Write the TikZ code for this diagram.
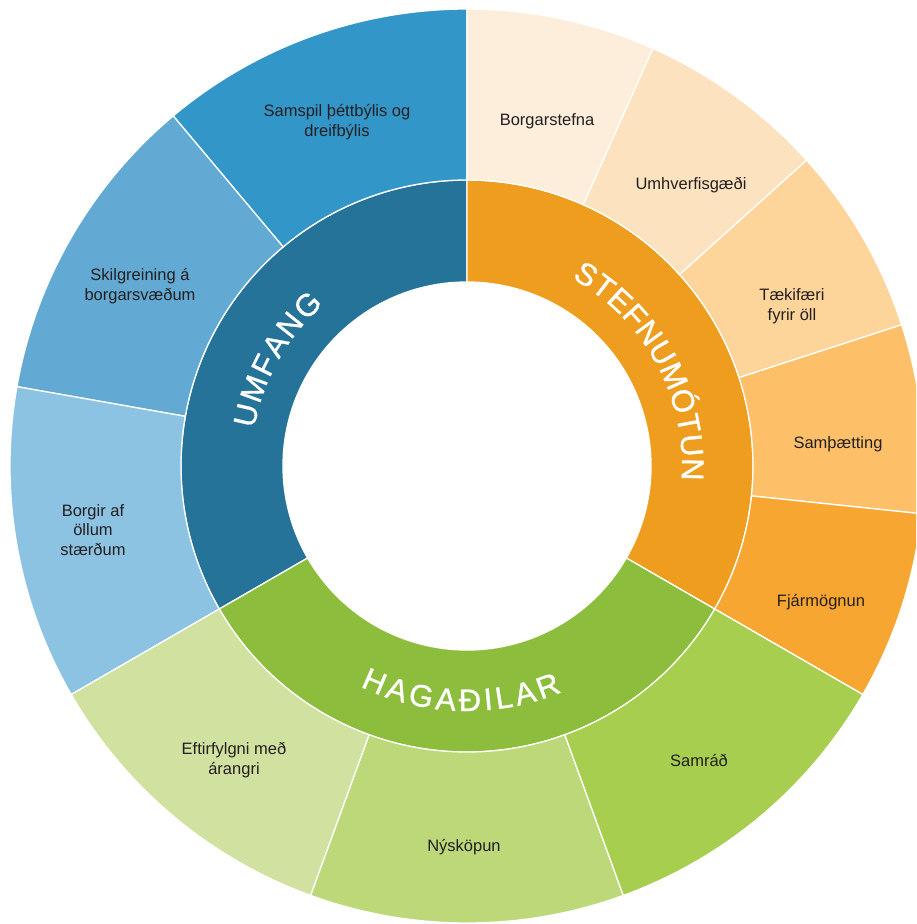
\documentclass[tikz,border=0pt]{standalone}
\usepackage{fontspec}
\setmainfont{Liberation Sans}
\newfontfamily\ringfont[FakeBold=1]{Liberation Sans}

\definecolor{umfang}{HTML}{267399}
\definecolor{samspil}{HTML}{3396C8}
\definecolor{skilgr}{HTML}{62AAD4}
\definecolor{borgir}{HTML}{8DC3E2}
\definecolor{stefnu}{HTML}{EF9D1F}
\definecolor{borgst}{HTML}{FDEEDC}
\definecolor{umhverf}{HTML}{FCE2BE}
\definecolor{taekif}{HTML}{FDD49A}
\definecolor{sampaet}{HTML}{FDC068}
\definecolor{fjarmogn}{HTML}{F7A731}
\definecolor{hagad}{HTML}{8CBD3C}
\definecolor{eftirf}{HTML}{D1E19F}
\definecolor{nyskop}{HTML}{BDD879}
\definecolor{samrad}{HTML}{A7CE4E}
\definecolor{txt}{HTML}{231F20}

\newcommand\ringseg[5]{%
  \filldraw[seg, fill=#1] (#2:#4) arc[start angle=#2, end angle=#3, radius=#4]
    -- (#3:#5) arc[start angle=#3, end angle=#2, radius=#5] -- cycle;}

\newcommand\ringfnt{\ringfont\fontsize{31}{33}\selectfont}

% clockwise text, letter tops outward
% #1 word, #2 letters, #3 number of letters, #4 baseline radius, #5 centre angle, #6 spacing
\newcommand\cwtext[6]{%
  \pgfmathsetmacro\arcW{width("#1")+(#3-1)*#6}%
  \pgfmathsetmacro\arcStart{#5+(\arcW/2)/#4*180/pi}%
  \gdef\dcur{0}%
  \foreach \ch [count=\k] in {#2}{%
    \pgfmathsetmacro\wch{width("\ch")}%
    \pgfmathsetmacro\ang{\arcStart-(\dcur+\wch/2)/#4*180/pi}%
    \node[ringlet, rotate=\ang-90] (#1-\k) at (\ang:#4) {\ch};
    \pgfmathsetmacro\tmpd{\dcur+\wch+#6}%
    \global\let\dcur\tmpd
  }}
% counter-clockwise text, letter tops inward
\newcommand\ccwtext[6]{%
  \pgfmathsetmacro\arcW{width("#1")+(#3-1)*#6}%
  \pgfmathsetmacro\arcStart{#5-(\arcW/2)/#4*180/pi}%
  \gdef\dcur{0}%
  \foreach \ch [count=\k] in {#2}{%
    \pgfmathsetmacro\wch{width("\ch")}%
    \pgfmathsetmacro\ang{\arcStart+(\dcur+\wch/2)/#4*180/pi}%
    \node[ringlet, rotate=\ang+90] (#1-\k) at (\ang:#4) {\ch};
    \pgfmathsetmacro\tmpd{\dcur+\wch+#6}%
    \global\let\dcur\tmpd
  }}

\begin{document}
\begin{tikzpicture}[x=1pt, y=1pt,
  seg/.style={draw=white, line width=1.3pt, line join=round},
  lbl/.style={align=center, font=\fontsize{16.5}{19.5}\selectfont, text=txt, inner sep=0pt},
  ringlet/.style={anchor=base, inner sep=0pt, outer sep=0pt, text=white, font=\ringfnt}
]
\clip (-467,466) rectangle (449,-458);
\useasboundingbox (-467,466) rectangle (449,-458);

% inner ring
\ringseg{umfang}{90}{210}{184}{286}
\ringseg{stefnu}{-30}{90}{184}{286}
\ringseg{hagad}{210}{330}{184}{286}

% outer ring - blue
\ringseg{samspil}{90}{130}{286}{457}
\ringseg{skilgr}{130}{170}{286}{457}
\ringseg{borgir}{170}{210}{286}{457}
% outer ring - orange
\ringseg{borgst}{66}{90}{286}{457}
\ringseg{umhverf}{42}{66}{286}{457}
\ringseg{taekif}{18}{42}{286}{457}
\ringseg{sampaet}{-6}{18}{286}{457}
\ringseg{fjarmogn}{-30}{-6}{286}{457}
% outer ring - green
\ringseg{eftirf}{210}{250}{286}{457}
\ringseg{nyskop}{250}{290}{286}{457}
\ringseg{samrad}{290}{330}{286}{457}

% curved inner labels
{\ringfnt
\cwtext{UMFANG}{U,M,F,A,N,G}{6}{216}{151}{2.1}
\cwtext{STEFNUMÓTUN}{S,T,E,F,N,U,M,Ó,T,U,N}{11}{215}{28.5}{0.5}
\ccwtext{HAGAÐILAR}{H,A,G,A,Ð,I,L,A,R}{9}{245}{268.5}{3.6}
}

% outer labels
\node[lbl] (l1) at (-130,344) {Samspil þéttbýlis og\\dreifbýlis};
\node[lbl] (l2) at (-327,180) {Skilgreining á\\borgarsvæðum};
\node[lbl] (l3) at (-374,-64) {Borgir af\\öllum\\stærðum};
\node[lbl] (l4) at (80,345) {Borgarstefna};
\node[lbl] (l5) at (224,281) {Umhverfisgæði};
\node[lbl] (l6) at (325,160) {Tækifæri\\fyrir öll};
\node[lbl] (l7) at (371,22) {Samþætting};
\node[lbl] (l8) at (354,-136) {Fjármögnun};
\node[lbl] (l9) at (232,-294) {Samráð};
\node[lbl] (l10) at (-3,-381) {Nýsköpun};
\node[lbl] (l11) at (-233,-294) {Eftirfylgni með\\árangri};
\end{tikzpicture}
\end{document}
